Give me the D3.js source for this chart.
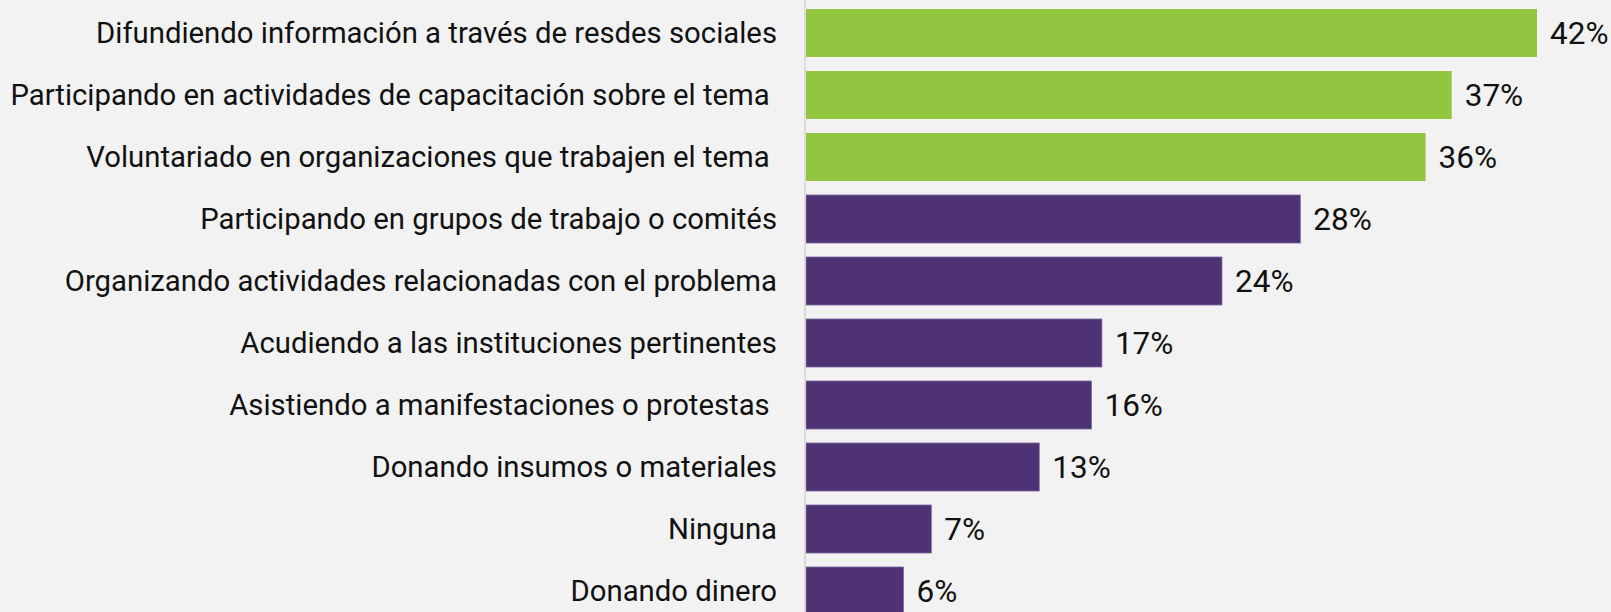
<!DOCTYPE html>
<html>
<head>
<meta charset="utf-8">
<script src="https://cdn.jsdelivr.net/npm/d3@7"></script>
<style>
  html, body { margin: 0; padding: 0; background: #f2f2f2; }
  svg { display: block; }
  text { font-family: Roboto, "Noto Sans", sans-serif; white-space: pre; }
</style>
</head>
<body>
<div id="chart"></div>
<script>
// acciones que realizaría la gente (porcentaje)
const categories = [
  "Difundiendo información a través de resdes sociales",
  "Participando en actividades de capacitación sobre el tema ",
  "Voluntariado en organizaciones que trabajen el tema ",
  "Participando en grupos de trabajo o comités",
  "Organizando actividades relacionadas con el problema",
  "Acudiendo a las instituciones pertinentes",
  "Asistiendo a manifestaciones o protestas ",
  "Donando insumos o materiales",
  "Ninguna",
  "Donando dinero"
];
const values = [42.0, 37.1, 35.6, 28.4, 23.9, 17.0, 16.4, 13.4, 7.2, 5.6];
// las tres primeras resaltadas en verde
const highlighted = [true, true, true, false, false, false, false, false, false, false];

const width = 1611, height = 612;
const x0 = 806;

const svg = d3.select("#chart").append("svg")
  .attr("width", width)
  .attr("height", height);

svg.append("rect")
  .attr("width", width).attr("height", height)
  .attr("fill", "#f2f2f2");

const x = d3.scaleLinear()
  .domain([0, 42])
  .range([x0, 1537]);

const y = d3.scaleBand()
  .domain(categories)
  .range([2, 622])
  .paddingInner(0.226)
  .paddingOuter(0.113);

const data = categories.map((c, i) => ({ cat: c, val: values[i], hl: highlighted[i] }));

svg.selectAll("rect.bar")
  .data(data)
  .join("rect")
  .attr("class", "bar")
  .attr("x", x(0))
  .attr("y", d => y(d.cat))
  .attr("width", d => x(d.val) - x(0))
  .attr("height", y.bandwidth())
  .attr("fill", d => d.hl ? "#92c641" : "#4f3274")
  .attr("stroke", d => d.hl ? "none" : "#7a65a0")
  .attr("stroke-width", 0.8);

// eje vertical
svg.append("line")
  .attr("x1", x0 - 1).attr("x2", x0 - 1)
  .attr("y1", 0).attr("y2", height)
  .attr("stroke", "#d4d4d4")
  .attr("stroke-width", 1.5);

// etiquetas de categoría
svg.selectAll("text.cat")
  .data(data)
  .join("text")
  .attr("class", "cat")
  .attr("x", x0 - 29)
  .attr("y", d => y(d.cat) + y.bandwidth() / 2)
  .attr("dy", "0.35em")
  .attr("text-anchor", "end")
  .attr("font-size", 29.3)
  .attr("fill", "#111")
  .text(d => d.cat);

// valores
svg.selectAll("text.val")
  .data(data)
  .join("text")
  .attr("class", "val")
  .attr("x", d => x(d.val) + 13)
  .attr("y", d => y(d.cat) + y.bandwidth() / 2)
  .attr("dy", "0.35em")
  .attr("font-size", 31.5)
  .attr("fill", "#111")
  .text(d => Math.round(d.val) + "%");
</script>
</body>
</html>
